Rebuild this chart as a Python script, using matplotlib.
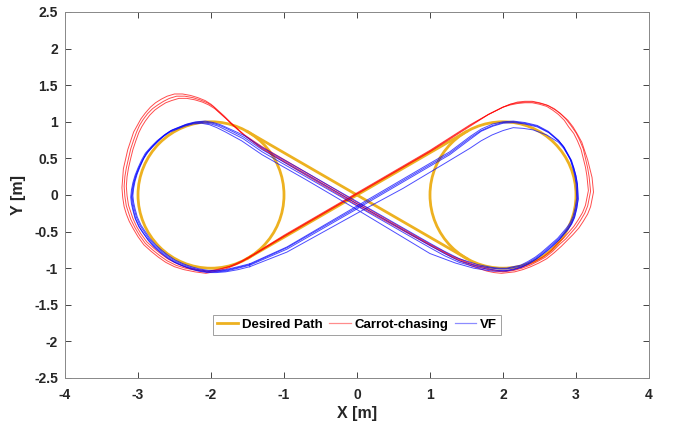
import numpy as np
import matplotlib.pyplot as plt
from matplotlib.patches import Circle
from matplotlib.lines import Line2D

plt.rcParams['font.family'] = ['Liberation Sans', 'DejaVu Sans']
plt.rcParams['font.weight'] = 'bold'
plt.rcParams['axes.unicode_minus'] = False

# desired path: two circles joined by two straight legs through the origin
circle_centers = [(-2.0, 0.0), (2.0, 0.0)]
circle_radius = 1.0
leg_up_x = [-1.5, 1.5]
leg_up_y = [-0.866, 0.866]
leg_down_x = [-1.5, 1.5]
leg_down_y = [0.866, -0.866]

# carrot-chasing laps
red_lap1 = [
    (-1.47, -0.85), (-1.0, -0.56), (0.0, 0.02), (1.0, 0.6), (1.55, 0.95),
    (1.8, 1.1), (2.0, 1.2), (2.1, 1.24), (2.2, 1.27), (2.3, 1.28), (2.4, 1.28), (2.5, 1.26),
    (2.6, 1.23), (2.7, 1.18), (2.78, 1.12), (2.86, 1.04),
    (2.93, 0.95), (3.0, 0.85), (3.05, 0.75), (3.1, 0.63), (3.13, 0.5), (3.16, 0.37),
    (3.18, 0.25), (3.2, 0.05), (3.18, -0.05), (3.16, -0.15),
    (3.12, -0.25), (3.06, -0.35), (3.0, -0.44), (2.93, -0.52), (2.86, -0.6), (2.78, -0.67),
    (2.68, -0.77), (2.58, -0.85), (2.47, -0.91), (2.37, -0.96),
    (2.26, -1.0), (2.15, -1.03), (2.0, -1.05), (1.9, -1.04), (1.8, -1.02), (1.59, -0.96),
    (1.3, -0.84), (1.0, -0.68),
    (0.0, -0.12), (-0.7, 0.29), (-1.3, 0.64), (-1.55, 0.82),
    (-1.7, 0.95), (-1.8, 1.05), (-1.9, 1.14), (-1.97, 1.21), (-2.05, 1.26), (-2.15, 1.3),
    (-2.25, 1.33), (-2.36, 1.35), (-2.47, 1.35), (-2.57, 1.32),
    (-2.65, 1.28), (-2.73, 1.23), (-2.8, 1.18), (-2.87, 1.11), (-2.93, 1.03), (-2.98, 0.95),
    (-3.02, 0.86), (-3.06, 0.75), (-3.1, 0.63), (-3.13, 0.5),
    (-3.16, 0.37), (-3.18, 0.25), (-3.19, 0.12), (-3.18, -0.02), (-3.16, -0.15), (-3.13, -0.24),
    (-3.1, -0.33), (-3.04, -0.45), (-2.98, -0.55), (-2.9, -0.66),
    (-2.8, -0.75), (-2.7, -0.83), (-2.6, -0.9), (-2.48, -0.96), (-2.35, -1.0), (-2.2, -1.03),
    (-2.05, -1.05), (-1.9, -1.02), (-1.75, -0.98), (-1.6, -0.92), (-1.47, -0.85),
]
red_lap2 = [
    (-1.5, -0.87), (-1.0, -0.57), (0.0, 0.01), (1.0, 0.59), (1.55, 0.94),
    (1.8, 1.1), (2.0, 1.2), (2.1, 1.24), (2.2, 1.26), (2.31, 1.27), (2.42, 1.27), (2.52, 1.25),
    (2.62, 1.22), (2.72, 1.16), (2.8, 1.1), (2.89, 1.02),
    (2.96, 0.93), (3.02, 0.83), (3.08, 0.72), (3.12, 0.6), (3.16, 0.48), (3.19, 0.36),
    (3.22, 0.24), (3.24, 0.04), (3.22, -0.06), (3.2, -0.16),
    (3.16, -0.26), (3.1, -0.36), (3.04, -0.45), (2.96, -0.54), (2.88, -0.62), (2.8, -0.7),
    (2.7, -0.79), (2.6, -0.87), (2.49, -0.93), (2.38, -0.98),
    (2.27, -1.02), (2.16, -1.05), (1.98, -1.07), (1.88, -1.06), (1.78, -1.04), (1.57, -0.97),
    (1.3, -0.85), (1.0, -0.69),
    (0.0, -0.14), (-0.7, 0.27), (-1.3, 0.63), (-1.56, 0.83),
    (-1.72, 0.98), (-1.82, 1.08), (-1.92, 1.17), (-2.0, 1.24), (-2.08, 1.29), (-2.18, 1.33),
    (-2.28, 1.36), (-2.39, 1.38), (-2.5, 1.38), (-2.6, 1.35),
    (-2.68, 1.31), (-2.76, 1.26), (-2.83, 1.2), (-2.9, 1.12), (-2.96, 1.04), (-3.01, 0.95),
    (-3.06, 0.86), (-3.1, 0.74), (-3.14, 0.62), (-3.17, 0.49),
    (-3.2, 0.36), (-3.21, 0.23), (-3.22, 0.1), (-3.21, -0.03), (-3.19, -0.16), (-3.16, -0.26),
    (-3.12, -0.36), (-3.06, -0.47), (-3.0, -0.57), (-2.92, -0.68),
    (-2.82, -0.77), (-2.72, -0.85), (-2.62, -0.92), (-2.5, -0.98), (-2.37, -1.02), (-2.22, -1.05),
    (-2.07, -1.07), (-1.92, -1.04), (-1.77, -1.0), (-1.63, -0.94), (-1.5, -0.87),
]
red_lap3 = [
    (-1.45, -0.83), (-1.0, -0.55), (0.0, 0.03), (1.0, 0.61), (1.55, 0.96),
    (1.8, 1.1), (2.0, 1.2), (2.1, 1.23), (2.2, 1.25), (2.3, 1.26), (2.4, 1.26), (2.5, 1.24),
    (2.6, 1.21), (2.68, 1.16), (2.76, 1.1), (2.84, 1.02),
    (2.9, 0.93), (2.97, 0.84), (3.02, 0.74), (3.07, 0.62), (3.1, 0.5), (3.13, 0.38),
    (3.15, 0.26), (3.17, 0.06), (3.15, -0.04), (3.13, -0.14),
    (3.09, -0.24), (3.03, -0.34), (2.97, -0.43), (2.9, -0.51), (2.83, -0.59), (2.75, -0.66),
    (2.66, -0.76), (2.56, -0.84), (2.45, -0.9), (2.35, -0.95),
    (2.25, -0.99), (2.14, -1.02), (2.0, -1.04), (1.91, -1.03), (1.82, -1.01), (1.6, -0.95),
    (1.3, -0.83), (1.0, -0.67),
    (0.0, -0.1), (-0.7, 0.31), (-1.3, 0.66), (-1.54, 0.82),
    (-1.68, 0.94), (-1.78, 1.03), (-1.88, 1.12), (-1.95, 1.18), (-2.03, 1.23), (-2.12, 1.27),
    (-2.22, 1.3), (-2.33, 1.32), (-2.44, 1.32), (-2.54, 1.29),
    (-2.62, 1.26), (-2.7, 1.21), (-2.77, 1.16), (-2.84, 1.09), (-2.9, 1.01), (-2.95, 0.93),
    (-2.99, 0.85), (-3.03, 0.74), (-3.07, 0.62), (-3.1, 0.5),
    (-3.13, 0.37), (-3.15, 0.25), (-3.16, 0.12), (-3.15, -0.01), (-3.13, -0.14), (-3.1, -0.23),
    (-3.07, -0.32), (-3.02, -0.43), (-2.96, -0.53), (-2.88, -0.64),
    (-2.78, -0.73), (-2.68, -0.81), (-2.58, -0.88), (-2.46, -0.94), (-2.33, -0.99), (-2.18, -1.02),
    (-2.03, -1.04), (-1.88, -1.01), (-1.73, -0.97), (-1.58, -0.9), (-1.45, -0.83),
]

# vector field laps
blue_lap1 = [
    (-1.47, -0.95), (-0.96, -0.72), (0.0, -0.17), (0.6, 0.18), (1.27, 0.57), (1.55, 0.78),
    (1.7, 0.88), (1.86, 0.95), (2.0, 0.99), (2.14, 1.0), (2.3, 0.98), (2.47, 0.94),
    (2.62, 0.86), (2.76, 0.74), (2.83, 0.66), (2.88, 0.57), (2.93, 0.48),
    (2.96, 0.38), (2.99, 0.27), (3.01, 0.15), (3.02, -0.05), (3.0, -0.18), (2.97, -0.3),
    (2.93, -0.39), (2.88, -0.46), (2.82, -0.53), (2.76, -0.6),
    (2.68, -0.67), (2.6, -0.74), (2.53, -0.8), (2.45, -0.86), (2.35, -0.92), (2.25, -0.97),
    (2.15, -0.99), (2.05, -1.01), (1.95, -1.01), (1.85, -1.0), (1.65, -0.97),
    (1.4, -0.9), (1.2, -0.8), (1.0, -0.69),
    (0.0, -0.12), (-0.7, 0.28), (-1.3, 0.62), (-1.55, 0.79),
    (-1.77, 0.9), (-1.88, 0.95), (-1.98, 0.98), (-2.1, 1.0), (-2.23, 0.99), (-2.35, 0.96),
    (-2.45, 0.92), (-2.55, 0.88), (-2.64, 0.82), (-2.72, 0.75), (-2.8, 0.67), (-2.88, 0.58),
    (-2.93, 0.49), (-2.98, 0.38), (-3.02, 0.28), (-3.05, 0.18), (-3.07, 0.08), (-3.08, -0.02),
    (-3.07, -0.11), (-3.05, -0.2), (-3.02, -0.31), (-2.97, -0.42), (-2.91, -0.51),
    (-2.85, -0.6), (-2.77, -0.69), (-2.68, -0.77), (-2.59, -0.84), (-2.5, -0.9),
    (-2.39, -0.95), (-2.28, -0.99), (-2.17, -1.02), (-2.05, -1.04), (-1.93, -1.04),
    (-1.8, -1.03), (-1.63, -0.99), (-1.47, -0.95),
]
blue_lap2 = [
    (-1.47, -0.96), (-0.96, -0.74), (0.0, -0.19), (0.6, 0.16), (1.27, 0.55), (1.55, 0.76),
    (1.7, 0.87), (1.86, 0.94), (2.0, 0.98), (2.14, 0.99), (2.3, 0.97), (2.47, 0.93),
    (2.63, 0.85), (2.77, 0.73), (2.84, 0.65), (2.89, 0.56), (2.94, 0.47),
    (2.97, 0.37), (3.0, 0.26), (3.02, 0.14), (3.03, -0.06), (3.01, -0.19), (2.98, -0.31),
    (2.94, -0.4), (2.89, -0.47), (2.83, -0.54), (2.77, -0.61),
    (2.69, -0.68), (2.61, -0.75), (2.54, -0.81), (2.46, -0.87), (2.36, -0.93), (2.26, -0.98),
    (2.15, -1.01), (2.05, -1.03), (1.95, -1.03), (1.85, -1.02), (1.65, -0.99),
    (1.4, -0.92), (1.2, -0.83), (1.0, -0.72),
    (0.0, -0.15), (-0.7, 0.25), (-1.3, 0.59), (-1.56, 0.77),
    (-1.78, 0.88), (-1.9, 0.94), (-2.0, 0.97), (-2.12, 0.99), (-2.24, 0.98), (-2.36, 0.95),
    (-2.46, 0.91), (-2.56, 0.87), (-2.65, 0.81), (-2.74, 0.74), (-2.82, 0.66), (-2.9, 0.57),
    (-2.95, 0.48), (-3.0, 0.37), (-3.04, 0.27), (-3.07, 0.17), (-3.09, 0.07), (-3.1, -0.03),
    (-3.09, -0.12), (-3.07, -0.21), (-3.04, -0.32), (-2.99, -0.43), (-2.93, -0.52),
    (-2.86, -0.61), (-2.78, -0.7), (-2.69, -0.78), (-2.6, -0.85), (-2.51, -0.91),
    (-2.4, -0.96), (-2.29, -1.0), (-2.18, -1.03), (-2.06, -1.05), (-1.94, -1.05),
    (-1.8, -1.04), (-1.63, -1.0), (-1.47, -0.96),
]
blue_lap3 = [
    (-1.47, -0.94), (-0.96, -0.71), (0.0, -0.15), (0.6, 0.2), (1.27, 0.59), (1.55, 0.8),
    (1.7, 0.9), (1.86, 0.97), (2.0, 1.0), (2.14, 1.01), (2.3, 0.99), (2.47, 0.95),
    (2.62, 0.87), (2.76, 0.75), (2.82, 0.67), (2.87, 0.58), (2.92, 0.49),
    (2.95, 0.39), (2.98, 0.28), (3.0, 0.16), (3.01, -0.04), (2.99, -0.17), (2.96, -0.29),
    (2.92, -0.38), (2.87, -0.45), (2.81, -0.52), (2.75, -0.59),
    (2.67, -0.66), (2.59, -0.73), (2.52, -0.79), (2.44, -0.85), (2.34, -0.91), (2.24, -0.96),
    (2.14, -0.98), (2.05, -1.0), (1.95, -1.0), (1.85, -0.99), (1.65, -0.95),
    (1.4, -0.87), (1.2, -0.77), (1.0, -0.66),
    (0.0, -0.09), (-0.7, 0.31), (-1.3, 0.65), (-1.54, 0.81),
    (-1.76, 0.91), (-1.87, 0.96), (-1.97, 0.99), (-2.08, 1.01), (-2.21, 1.0), (-2.33, 0.97),
    (-2.43, 0.93), (-2.53, 0.89), (-2.62, 0.83), (-2.7, 0.76), (-2.78, 0.68), (-2.86, 0.59),
    (-2.92, 0.5), (-2.97, 0.39), (-3.01, 0.29), (-3.04, 0.19), (-3.06, 0.09), (-3.07, -0.01),
    (-3.06, -0.1), (-3.04, -0.19), (-3.01, -0.3), (-2.96, -0.41), (-2.9, -0.5),
    (-2.84, -0.59), (-2.76, -0.68), (-2.67, -0.76), (-2.58, -0.83), (-2.49, -0.89),
    (-2.38, -0.94), (-2.27, -0.98), (-2.16, -1.01), (-2.04, -1.03), (-1.92, -1.03),
    (-1.8, -1.02), (-1.63, -0.98), (-1.47, -0.94),
]
blue_lap4 = [
    (-1.47, -0.98), (-0.96, -0.78), (0.0, -0.25), (0.63, 0.09), (1.2, 0.43), (1.55, 0.64),
    (1.7, 0.74), (1.85, 0.82), (2.0, 0.88), (2.14, 0.92), (2.28, 0.91), (2.41, 0.89),
    (2.6, 0.82), (2.76, 0.72), (2.83, 0.64), (2.88, 0.56), (2.93, 0.47),
    (2.97, 0.37), (3.0, 0.26), (3.02, 0.15), (3.03, -0.05), (3.01, -0.18), (2.98, -0.3),
    (2.94, -0.39), (2.89, -0.47), (2.83, -0.54), (2.77, -0.61),
    (2.69, -0.69), (2.61, -0.76), (2.53, -0.82), (2.45, -0.88), (2.35, -0.94), (2.25, -0.99),
    (2.15, -1.02), (2.05, -1.04), (1.95, -1.04), (1.85, -1.04), (1.6, -1.0),
    (1.35, -0.93), (1.0, -0.8),
    (0.0, -0.2), (-0.7, 0.21), (-1.3, 0.55), (-1.58, 0.74),
    (-1.8, 0.86), (-1.92, 0.92), (-2.02, 0.96), (-2.13, 0.98), (-2.25, 0.97), (-2.36, 0.94),
    (-2.46, 0.9), (-2.56, 0.86), (-2.65, 0.8), (-2.73, 0.73), (-2.81, 0.65), (-2.89, 0.56),
    (-2.94, 0.47), (-2.99, 0.37), (-3.03, 0.27), (-3.06, 0.17), (-3.08, 0.07), (-3.09, -0.03),
    (-3.08, -0.12), (-3.06, -0.22), (-3.03, -0.33), (-2.98, -0.44), (-2.92, -0.53),
    (-2.86, -0.62), (-2.78, -0.71), (-2.69, -0.79), (-2.6, -0.86), (-2.5, -0.92),
    (-2.39, -0.97), (-2.28, -1.01), (-2.17, -1.04), (-2.05, -1.06), (-1.93, -1.06),
    (-1.8, -1.05), (-1.63, -1.02), (-1.47, -0.98),
]

red_laps = [red_lap1, red_lap2, red_lap3]
blue_laps = [blue_lap1, blue_lap2, blue_lap3, blue_lap4]
series_names = ['Desired Path', 'Carrot-chasing', 'VF']

x_ticks = [-4, -3, -2, -1, 0, 1, 2, 3, 4]
y_ticks = [-2.5, -2, -1.5, -1, -0.5, 0, 0.5, 1, 1.5, 2, 2.5]
y_tick_labels = ['-2.5', '-2', '-1.5', '-1', '-0.5', '0', '0.5', '1', '1.5', '2', '2.5']

gold = '#EDB120'
red = '#ff0000'
blue = '#0000ff'
axis_gray = '#262626'

fig = plt.figure(figsize=(6.73, 4.24), dpi=100)
ax = fig.add_axes([0.0966, 0.1085, 0.8677, 0.8632])

# desired path
for c in circle_centers:
    ax.add_patch(Circle(c, circle_radius, fill=False, edgecolor=gold, linewidth=2.0, zorder=2))
ax.plot(leg_up_x, leg_up_y, color=gold, linewidth=2.0, zorder=2)
ax.plot(leg_down_x, leg_down_y, color=gold, linewidth=2.0, zorder=2)

for lap in red_laps:
    pts = np.array(lap)
    ax.plot(pts[:, 0], pts[:, 1], color=red, linewidth=0.7, alpha=0.7, zorder=3)
for lap in blue_laps:
    pts = np.array(lap)
    ax.plot(pts[:, 0], pts[:, 1], color=blue, linewidth=0.7, alpha=0.7, zorder=3)

ax.set_xlim(-4, 4)
ax.set_ylim(-2.5, 2.5)
ax.set_xticks(x_ticks)
ax.set_yticks(y_ticks)
ax.set_yticklabels(y_tick_labels)
ax.tick_params(direction='in', length=4, width=0.6, top=True, right=True,
               labelsize=10, colors=axis_gray, labelcolor=axis_gray)
ax.tick_params(axis='x', pad=7)
ax.tick_params(axis='y', pad=5)
for lbl in ax.get_xticklabels() + ax.get_yticklabels():
    lbl.set_fontweight('bold')
for s in ax.spines.values():
    s.set_color('#888888')
    s.set_linewidth(0.7)
ax.set_xlabel('X [m]', fontsize=11.5, fontweight='bold', color=axis_gray, labelpad=3)
ax.set_ylabel('Y [m]', fontsize=11.5, fontweight='bold', color=axis_gray, labelpad=6)

handles = [
    Line2D([], [], color=gold, linewidth=2.0),
    Line2D([], [], color=red, linewidth=0.9, alpha=0.45),
    Line2D([], [], color=blue, linewidth=0.9, alpha=0.45),
]
leg = ax.legend(handles, series_names, loc='center', bbox_to_anchor=(0.5, 0.145), ncol=3,
                fontsize=9.5, frameon=True, fancybox=False, handlelength=1.6,
                handletextpad=0.3, columnspacing=0.5, borderpad=0.3, borderaxespad=0)
leg.get_frame().set_edgecolor('#888888')
leg.get_frame().set_linewidth(0.7)
for t in leg.get_texts():
    t.set_fontweight('bold')

fig.savefig('out.png', dpi=100)
